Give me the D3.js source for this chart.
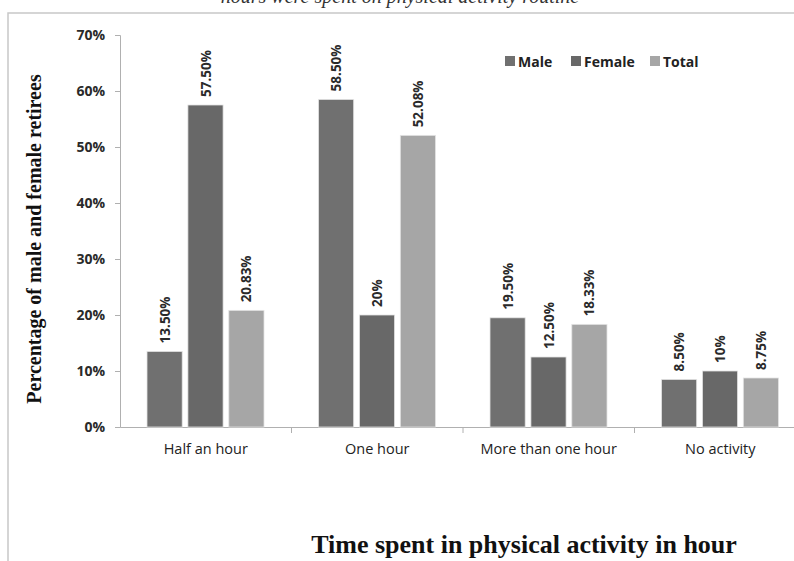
<!DOCTYPE html>
<html><head><meta charset="utf-8">
<script src="https://cdn.jsdelivr.net/npm/d3@7"></script>
<style>body{margin:0;background:#fff}svg{display:block}</style>
</head><body>
<svg id="c" width="794" height="561"></svg>
<script>
const categories = ["Half an hour", "One hour", "More than one hour", "No activity"];
const seriesNames = ["Male", "Female", "Total"];
const male = [13.5, 58.5, 19.5, 8.5];
const female = [57.5, 20, 12.5, 10];
const total = [20.83, 52.08, 18.33, 8.75];
const maleLabels = ["13.50%", "58.50%", "19.50%", "8.50%"];
const femaleLabels = ["57.50%", "20%", "12.50%", "10%"];
const totalLabels = ["20.83%", "52.08%", "18.33%", "8.75%"];
const yTicks = [0, 10, 20, 30, 40, 50, 60, 70];
const colors = ["#707070", "#686868", "#a6a6a6"];

const svg = d3.select("#c");
const sans = "'Open Sans', 'Liberation Sans', sans-serif";
const serif = "'Liberation Serif', 'DejaVu Serif', serif";

// frame
svg.append("path").attr("d", "M8,561 V13 H794").attr("fill", "none").attr("stroke", "#c8c8c8").attr("stroke-width", 1.5);
// title at top (cut off by the top edge in the reference too)
svg.append("text").attr("x", 400).attr("y", 3).attr("text-anchor", "middle")
  .attr("font-family", serif).attr("font-style", "italic").attr("font-size", 20).attr("fill", "#333")
  .text("hours were spent on physical activity routine");

const y = d3.scaleLinear().domain([0, 70]).range([427, 35]);
const x0 = d3.scaleBand().domain(categories).range([120, 806]).paddingInner(0).paddingOuter(0);
const x1 = d3.scaleBand().domain(seriesNames).range([27, 27 + 117]).paddingInner(0.14);

// y axis
const yAxis = d3.axisLeft(y).tickValues(yTicks).tickSize(5).tickPadding(10).tickFormat(d => d + "%");
const ga = svg.append("g").attr("transform", "translate(120,0)").call(yAxis);
ga.select(".domain").attr("stroke", "#b0b0b0");
ga.selectAll(".tick line").attr("stroke", "#b0b0b0");
ga.selectAll("text").attr("font-family", sans).attr("font-weight", "bold").attr("font-size", 14).attr("fill", "#2a2a2a");

// x axis
const xAxis = d3.axisBottom(x0).tickSize(0).tickPadding(17);
const gx = svg.append("g").attr("transform", "translate(0,427)").call(xAxis);
gx.select(".domain").attr("stroke", "#b0b0b0");
gx.selectAll("text").attr("font-family", sans).attr("font-size", 14.5).attr("fill", "#222");
// category separator ticks
svg.append("g").selectAll("line").data(categories.slice(1)).join("line")
  .attr("x1", d => x0(d)).attr("x2", d => x0(d)).attr("y1", 427).attr("y2", 433).attr("stroke", "#b0b0b0");

const data = [male, female, total];
const labels = [maleLabels, femaleLabels, totalLabels];
seriesNames.forEach((s, si) => {
  const g = svg.append("g");
  g.selectAll("rect").data(categories).join("rect")
    .attr("x", (c) => x0(c) + x1(s))
    .attr("y", (c, i) => y(data[si][i]))
    .attr("width", x1.bandwidth())
    .attr("height", (c, i) => 427 - y(data[si][i]))
    .attr("fill", colors[si]).attr("stroke", "#e4e4e4").attr("stroke-width", 0.8);
  g.selectAll("text").data(categories).join("text")
    .attr("transform", (c, i) => `translate(${x0(c) + x1(s) + x1.bandwidth() / 2 + 5},${y(data[si][i]) - 8}) rotate(-90)`)
    .attr("font-family", sans).attr("font-weight", "bold").attr("font-size", 13.5).attr("fill", "#2a2a2a")
    .text((c, i) => labels[si][i]);
});

// legend
const legX = [505, 571, 650];
const lg = svg.append("g");
seriesNames.forEach((s, i) => {
  lg.append("rect").attr("x", legX[i]).attr("y", 56).attr("width", 10).attr("height", 10).attr("fill", colors[i]);
  lg.append("text").attr("x", legX[i] + 13).attr("y", 66.5).attr("font-family", sans).attr("font-weight", "bold")
    .attr("font-size", 14).attr("fill", "#222").text(s);
});

// axis titles
svg.append("text").attr("transform", "translate(41,239) rotate(-90)").attr("text-anchor", "middle")
  .attr("font-family", serif).attr("font-weight", "bold").attr("font-size", 20).attr("fill", "#111")
  .text("Percentage of male and female retirees");
svg.append("text").attr("x", 524).attr("y", 553).attr("text-anchor", "middle")
  .attr("font-family", serif).attr("font-weight", "bold").attr("font-size", 26).attr("fill", "#111")
  .text("Time spent in physical activity in hour");
</script>
</body></html>
